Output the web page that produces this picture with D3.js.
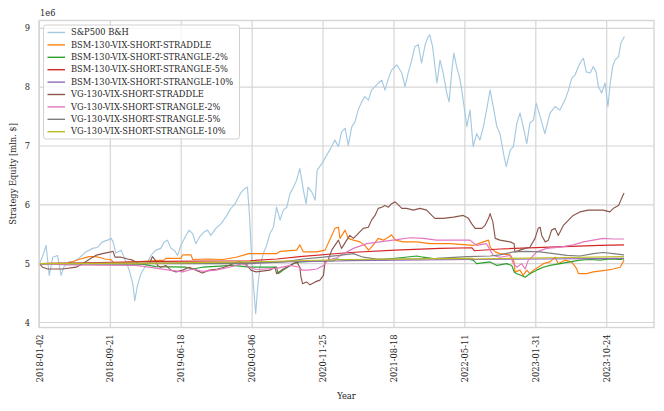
<!DOCTYPE html>
<html>
<head>
<meta charset="utf-8">
<script src="https://cdn.jsdelivr.net/npm/d3@7"></script>
<style>
  body { margin: 0; background: #fff; }
  text { font-family: "DejaVu Serif", serif; fill: #262626; }
</style>
</head>
<body>
<svg id="chart" width="664" height="411"></svg>
<script>
// x axis is the trading-day index, labelled with the date of every 180th day
const tickDays = [0, 180, 360, 540, 720, 900, 1080, 1260, 1440];
const tickLabels = ["2018-01-02", "2018-09-21", "2019-06-18", "2020-03-06", "2020-11-25",
  "2021-08-18", "2022-05-11", "2023-01-31", "2023-10-24"];
const yTicks = [4, 5, 6, 7, 8, 9];

// equity in mln $, as [trading day, value] pairs
const spx = [[0,5.00],[8,5.12],[17,5.31],[25,4.80],[34,5.11],[46,5.14],[55,4.80],[62,4.94],[75,5.03],[88,5.04],[100,5.09],[118,5.20],[135,5.26],[148,5.28],[160,5.37],[173,5.40],[182,5.43],[187,5.37],[194,5.18],[207,5.23],[215,5.11],[228,4.89],[237,4.66],[242,4.37],[249,4.63],[258,4.83],[270,4.97],[283,5.14],[296,5.23],[308,5.26],[317,5.37],[325,5.40],[334,5.26],[342,5.23],[351,5.14],[359,5.31],[372,5.48],[380,5.57],[389,5.51],[397,5.34],[406,5.45],[418,5.54],[427,5.57],[435,5.48],[448,5.60],[461,5.68],[474,5.80],[486,5.94],[497,6.02],[505,6.13],[513,6.22],[522,6.28],[528,6.30],[533,5.85],[536,5.45],[541,4.83],[545,4.49],[549,4.15],[554,4.60],[560,4.94],[568,5.17],[577,5.31],[585,5.51],[594,5.62],[602,5.96],[611,5.74],[619,5.91],[628,5.96],[636,6.19],[645,6.30],[653,6.42],[661,6.62],[670,6.25],[677,6.02],[682,6.30],[691,6.22],[700,6.08],[705,6.59],[717,6.70],[729,6.84],[742,6.99],[750,7.10],[759,6.99],[767,7.24],[776,7.30],[784,7.01],[793,7.33],[801,7.41],[809,7.61],[818,7.75],[826,7.84],[835,7.78],[843,7.95],[852,8.01],[860,8.07],[869,8.12],[877,7.95],[886,8.15],[894,8.29],[907,8.38],[920,8.24],[928,8.01],[936,8.24],[945,8.46],[953,8.69],[962,8.72],[970,8.41],[979,8.72],[987,8.86],[991,8.89],[998,8.69],[1009,8.07],[1017,8.46],[1025,8.24],[1034,7.90],[1040,7.75],[1047,8.29],[1052,8.58],[1059,8.35],[1066,8.18],[1072,7.95],[1078,7.67],[1085,7.33],[1093,7.61],[1101,6.99],[1110,7.21],[1118,7.10],[1127,7.33],[1135,7.61],[1144,7.95],[1152,7.67],[1161,7.33],[1169,7.21],[1178,6.87],[1185,6.65],[1195,6.93],[1203,6.99],[1212,7.39],[1220,7.56],[1228,7.33],[1237,7.04],[1245,7.39],[1254,7.44],[1261,7.73],[1271,7.50],[1283,7.21],[1296,7.56],[1309,7.67],[1321,7.61],[1334,7.78],[1343,7.95],[1351,8.15],[1360,8.21],[1368,8.35],[1377,8.46],[1381,8.49],[1388,8.26],[1398,8.24],[1406,8.35],[1413,8.26],[1419,8.01],[1427,7.90],[1436,8.07],[1443,7.67],[1449,8.07],[1455,8.35],[1461,8.46],[1470,8.52],[1476,8.75],[1485,8.86]];

const bsmStraddle = [[0,5.00],[75,5.01],[100,5.07],[126,5.12],[143,5.12],[156,5.10],[165,5.08],[182,5.07],[189,5.01],[245,5.03],[316,5.06],[321,5.09],[359,5.09],[364,5.15],[385,5.15],[389,5.07],[430,5.08],[465,5.07],[499,5.11],[532,5.17],[602,5.17],[611,5.21],[653,5.23],[661,5.32],[670,5.20],[704,5.20],[725,5.23],[742,5.48],[750,5.60],[759,5.62],[763,5.43],[776,5.57],[784,5.43],[797,5.40],[814,5.37],[826,5.31],[835,5.23],[843,5.28],[860,5.43],[873,5.40],[886,5.45],[894,5.49],[903,5.40],[924,5.37],[958,5.37],[991,5.34],[1042,5.34],[1101,5.31],[1127,5.37],[1140,5.40],[1144,5.28],[1157,5.20],[1169,5.17],[1195,5.15],[1205,5.03],[1207,4.86],[1220,4.89],[1228,4.80],[1237,4.89],[1245,4.83],[1254,4.89],[1266,4.94],[1279,5.00],[1296,5.03],[1309,5.11],[1317,5.00],[1334,5.06],[1351,5.03],[1364,4.91],[1368,4.83],[1389,4.83],[1406,4.86],[1440,4.89],[1457,4.91],[1474,4.94],[1484,5.06]];

const bsmStrangle2 = [[0,5.00],[262,4.99],[296,4.95],[372,4.94],[389,4.91],[414,4.94],[491,4.97],[533,4.94],[602,4.94],[606,4.83],[619,4.89],[644,5.00],[661,5.03],[745,5.05],[755,5.08],[771,5.06],[831,5.06],[873,5.07],[958,5.13],[974,5.11],[1008,5.08],[1085,5.08],[1101,5.06],[1110,5.00],[1144,5.03],[1161,4.97],[1186,5.00],[1199,4.97],[1205,4.86],[1212,4.83],[1224,4.80],[1233,4.77],[1245,4.83],[1262,4.89],[1279,4.94],[1296,4.97],[1322,5.00],[1347,5.03],[1372,5.06],[1398,5.07],[1423,5.06],[1448,5.08],[1474,5.07],[1484,5.08]];

const bsmStrangle5 = [[0,5.00],[154,5.02],[306,5.04],[534,5.05],[603,5.08],[661,5.12],[788,5.19],[903,5.23],[1017,5.26],[1098,5.27],[1104,5.22],[1169,5.25],[1296,5.28],[1423,5.31],[1484,5.32]];

const bsmStrangle10 = [[0,5.00],[534,5.02],[788,5.05],[1098,5.07],[1484,5.09]];

const vgStraddle = [[0,5.00],[8,4.94],[21,4.91],[59,4.91],[93,4.94],[110,5.00],[126,5.07],[143,5.14],[160,5.17],[182,5.20],[187,5.21],[192,5.11],[207,5.11],[224,5.08],[237,5.06],[253,5.00],[279,5.00],[287,5.12],[294,5.06],[300,4.97],[308,4.94],[321,4.97],[334,4.89],[347,4.86],[364,4.89],[380,4.94],[397,4.89],[414,4.84],[431,4.89],[452,4.91],[469,4.94],[491,5.00],[507,5.03],[524,5.00],[537,4.89],[550,4.86],[585,4.89],[598,4.94],[602,4.83],[619,4.91],[636,4.97],[653,5.03],[661,4.94],[664,4.77],[668,4.66],[678,4.69],[687,4.64],[700,4.69],[712,4.72],[721,4.80],[725,5.03],[733,5.06],[742,5.23],[750,5.31],[759,5.40],[767,5.26],[780,5.40],[788,5.48],[797,5.43],[809,5.51],[822,5.60],[835,5.62],[843,5.74],[852,5.82],[860,5.94],[869,5.96],[877,5.99],[886,5.96],[894,6.02],[903,6.05],[911,6.00],[920,5.94],[932,5.94],[949,5.91],[966,5.94],[983,5.91],[996,5.82],[1004,5.77],[1025,5.77],[1051,5.79],[1076,5.82],[1089,5.77],[1097,5.68],[1106,5.60],[1123,5.60],[1131,5.65],[1140,5.77],[1144,5.85],[1151,5.71],[1157,5.43],[1169,5.40],[1195,5.37],[1205,5.34],[1207,5.20],[1220,5.23],[1233,5.26],[1245,5.28],[1258,5.43],[1266,5.60],[1271,5.62],[1275,5.48],[1284,5.37],[1292,5.40],[1300,5.57],[1309,5.60],[1317,5.48],[1330,5.65],[1343,5.74],[1355,5.82],[1372,5.88],[1393,5.91],[1415,5.91],[1431,5.91],[1448,5.88],[1457,5.94],[1470,5.99],[1474,6.05],[1481,6.16],[1484,6.20]];

const vgStrangle2 = [[0,5.00],[75,4.98],[245,4.97],[278,4.94],[329,4.89],[364,4.86],[389,4.91],[414,4.87],[448,4.89],[482,4.94],[516,5.00],[537,4.93],[550,4.90],[602,4.92],[636,4.97],[661,4.94],[666,4.89],[682,4.89],[704,4.91],[721,4.97],[733,5.06],[755,5.10],[780,5.20],[797,5.26],[831,5.34],[873,5.38],[898,5.40],[941,5.44],[974,5.43],[1008,5.40],[1059,5.40],[1093,5.40],[1110,5.31],[1135,5.34],[1144,5.23],[1152,5.14],[1169,5.11],[1195,5.14],[1203,5.00],[1212,4.94],[1224,5.00],[1233,4.91],[1241,5.06],[1250,5.11],[1262,5.20],[1287,5.26],[1322,5.28],[1355,5.32],[1381,5.37],[1406,5.40],[1431,5.43],[1457,5.42],[1484,5.42]];

const vgStrangle5 = [[0,5.00],[281,5.00],[534,5.00],[619,5.03],[670,5.08],[721,5.11],[771,5.15],[797,5.17],[822,5.11],[856,5.08],[958,5.08],[1008,5.09],[1085,5.12],[1144,5.13],[1169,5.15],[1203,5.20],[1237,5.21],[1271,5.20],[1305,5.17],[1339,5.14],[1372,5.13],[1406,5.17],[1431,5.19],[1457,5.17],[1484,5.15]];

const vgStrangle10 = [[0,5.00],[300,5.01],[534,5.03],[788,5.07],[1098,5.09],[1104,5.08],[1300,5.10],[1484,5.12]];

const seriesNames = ["S&P500 B&H", "BSM-130-VIX-SHORT-STRADDLE", "BSM-130-VIX-SHORT-STRANGLE-2%",
  "BSM-130-VIX-SHORT-STRANGLE-5%", "BSM-130-VIX-SHORT-STRANGLE-10%", "VG-130-VIX-SHORT-STRADDLE",
  "VG-130-VIX-SHORT-STRANGLE-2%", "VG-130-VIX-SHORT-STRANGLE-5%", "VG-130-VIX-SHORT-STRANGLE-10%"];
const seriesColors = ["#a5c9e1", "#ff7f0e", "#2ca02c", "#d62728", "#9467bd", "#8c564b", "#e377c2", "#7f7f7f", "#bcbd22"];
const seriesData = [spx, bsmStraddle, bsmStrangle2, bsmStrangle5, bsmStrangle10, vgStraddle, vgStrangle2, vgStrangle5, vgStrangle10];

const svg = d3.select("#chart");
const plot = { left: 39, right: 654, top: 20.5, bottom: 327.5 };
const gridColor = "#d6d6d6";
const fontSize = "8.3px";

const x = d3.scaleLinear().domain([-1, 1560]).range([plot.left, plot.right]);
const y = d3.scaleLinear().domain([3.915, 9.133]).range([plot.bottom, plot.top]);

// grid
svg.append("g").selectAll("line")
  .data(tickDays).join("line")
  .attr("x1", d => x(d)).attr("x2", d => x(d))
  .attr("y1", plot.top).attr("y2", plot.bottom)
  .attr("stroke", gridColor).attr("stroke-width", 1.2);
svg.append("g").selectAll("line")
  .data(yTicks).join("line")
  .attr("y1", d => y(d)).attr("y2", d => y(d))
  .attr("x1", plot.left).attr("x2", plot.right)
  .attr("stroke", gridColor).attr("stroke-width", 1.2);

// axes via d3 axis generators, only labels kept
const xAxis = svg.append("g")
  .attr("transform", `translate(0, ${plot.bottom + 4})`)
  .call(d3.axisBottom(x).tickValues(tickDays).tickFormat((d, i) => tickLabels[i]).tickSize(0));
xAxis.select(".domain").remove();
xAxis.selectAll("text")
  .attr("transform", "rotate(-90)")
  .attr("x", -3).attr("y", 0).attr("dy", "0.32em")
  .attr("text-anchor", "end")
  .style("font-family", "DejaVu Serif, serif").style("font-size", fontSize).attr("fill", "#262626");

const yAxis = svg.append("g")
  .attr("transform", `translate(${plot.left - 9}, 0)`)
  .call(d3.axisLeft(y).tickValues(yTicks).tickFormat(d3.format("d")).tickSize(0));
yAxis.select(".domain").remove();
yAxis.selectAll("text")
  .attr("x", 0)
  .style("font-family", "DejaVu Serif, serif").style("font-size", fontSize).attr("fill", "#262626");

// lines
svg.append("clipPath").attr("id", "clip").append("rect")
  .attr("x", plot.left).attr("y", plot.top)
  .attr("width", plot.right - plot.left).attr("height", plot.bottom - plot.top);

const line = d3.line().x(d => x(d[0])).y(d => y(d[1]));
svg.append("g").attr("clip-path", "url(#clip)")
  .selectAll("path")
  .data(seriesData).join("path")
  .attr("d", line)
  .attr("fill", "none")
  .attr("stroke", (d, i) => seriesColors[i])
  .attr("stroke-width", 1.15)
  .attr("stroke-linejoin", "round");

// frame
svg.append("rect")
  .attr("x", plot.left).attr("y", plot.top)
  .attr("width", plot.right - plot.left).attr("height", plot.bottom - plot.top)
  .attr("fill", "none").attr("stroke", gridColor).attr("stroke-width", 1.4);

// offset text and axis titles
svg.append("text").attr("x", plot.left + 1).attr("y", 16)
  .style("font-size", fontSize).text("1e6");
svg.append("text").attr("x", (plot.left + plot.right) / 2).attr("y", 399)
  .attr("text-anchor", "middle").style("font-size", fontSize).text("Year");
svg.append("text")
  .attr("transform", `translate(16, ${(plot.top + plot.bottom) / 2}) rotate(-90)`)
  .attr("text-anchor", "middle").style("font-size", fontSize).text("Strategy Equity [mln. $]");

// legend
const legend = svg.append("g").attr("transform", "translate(43.5, 25)");
legend.append("rect")
  .attr("width", 196).attr("height", 114).attr("rx", 2.5)
  .attr("fill", "#fff").attr("fill-opacity", 0.8)
  .attr("stroke", "#cccccc").attr("stroke-width", 0.9);
const rows = legend.selectAll("g.row").data(seriesNames).join("g")
  .attr("transform", (d, i) => `translate(0, ${7.5 + i * 12.4})`);
rows.append("line")
  .attr("x1", 4).attr("x2", 21.5)
  .attr("stroke", (d, i) => seriesColors[i]).attr("stroke-width", 1.4);
rows.append("text")
  .attr("x", 27.5).attr("dy", "0.32em")
  .style("font-size", fontSize).text(d => d);
</script>
</body>
</html>
